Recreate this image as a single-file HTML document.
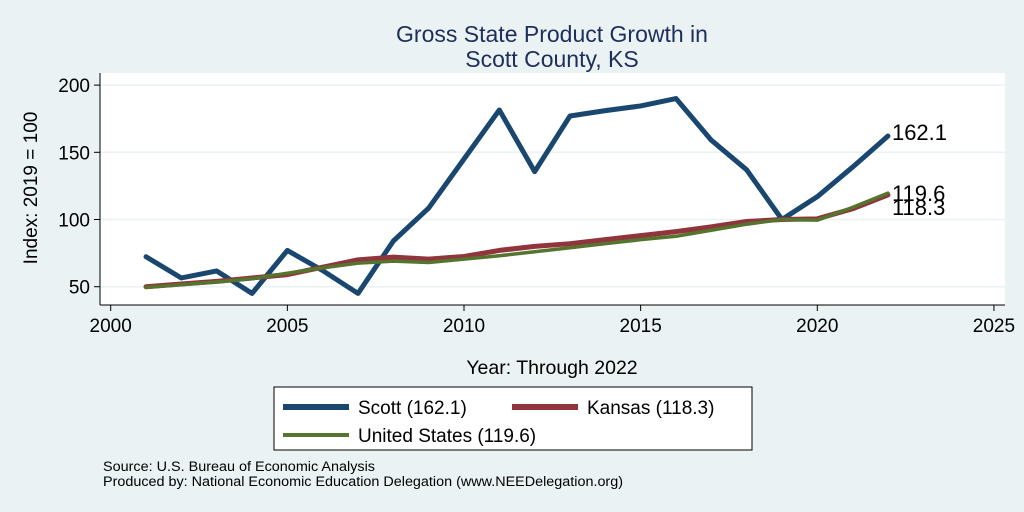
<!DOCTYPE html>
<html><head><meta charset="utf-8"><style>
body{margin:0;background:#eaf2f3;font-family:"Liberation Sans",sans-serif;}
svg{display:block}
</style></head><body>
<svg id="chart" width="1024" height="512" viewBox="0 0 1024 512">
<rect x="0" y="0" width="1024" height="512" fill="#eaf2f3"/>
<text x="552" y="42" text-anchor="middle" font-size="23" fill="#1e2d5a">Gross State Product Growth in</text>
<text x="552" y="67" text-anchor="middle" font-size="23" fill="#1e2d5a">Scott County, KS</text>
<rect x="100" y="73" width="905" height="232" fill="#fff"/>
<g id="grid"></g><g id="axes"></g><g id="series"></g>
<text transform="translate(37,188) rotate(-90)" text-anchor="middle" font-size="19" fill="#000">Index: 2019 = 100</text>
<text x="552" y="374" text-anchor="middle" font-size="19.5" fill="#000">Year: Through 2022</text>
<g>
<rect x="274" y="387" width="478" height="63" fill="#fff" stroke="#000" stroke-width="1"/>
<g><line x1="283" y1="407" x2="349" y2="407" stroke="#1a476f" stroke-width="6"/><text x="358" y="414" font-size="19">Scott  (162.1)</text></g>
<g><line x1="512" y1="407" x2="578" y2="407" stroke="#90353b" stroke-width="6"/><text x="587" y="414" font-size="19">Kansas (118.3)</text></g>
<g><line x1="283" y1="435" x2="349" y2="435" stroke="#55752f" stroke-width="4"/><text x="358" y="442" font-size="19">United States (119.6)</text></g>
</g>
<text x="103" y="471" font-size="13.5" textLength="272" lengthAdjust="spacingAndGlyphs">Source: U.S. Bureau of Economic Analysis</text>
<text x="103" y="486" font-size="13.5" textLength="520" lengthAdjust="spacingAndGlyphs">Produced by: National Economic Education Delegation (www.NEEDelegation.org)</text>
</svg>
<script>
const years=[2001,2002,2003,2004,2005,2006,2007,2008,2009,2010,2011,2012,2013,2014,2015,2016,2017,2018,2019,2020,2021,2022];
const scott=[72.3,56.5,61.7,45,77,62,45,84,108.5,145,181.5,135.6,177,181,184.5,190,159,137,100,117,139,162.1];
const kansas=[50,52,54,56.5,59,64.5,70,72,70.5,72.5,77,80,82,85,88,91,94.5,98.5,100,100.5,108,118.3];
const us=[49.5,51.5,53.5,56,60,64,67.5,69,68,70.5,73,76,79,82,85,87.5,92,96.5,100,99.5,109,119.6];
const xTicks=[2000,2005,2010,2015,2020,2025];
const yTicks=[50,100,150,200];
const labels=["162.1","119.6","118.3"];
const NS="http://www.w3.org/2000/svg";
const X=v=>110.7+(v-2000)*35.33;
const Y=v=>286.7-(v-50)*1.344;
function mk(t,a,p){const e=document.createElementNS(NS,t);for(const k in a)e.setAttribute(k,a[k]);p.appendChild(e);return e;}
const grid=document.getElementById('grid'),axes=document.getElementById('axes'),ser=document.getElementById('series');
yTicks.forEach(v=>{
 const g=mk('line',{x1:100,x2:1005,y1:Y(v),y2:Y(v),stroke:'#eaf2f3','stroke-width':1.5},grid);
 
 
 const t=mk('line',{x1:94,x2:100,y1:Y(v),y2:Y(v),stroke:'#000'},axes);
 
 
 const l=mk('text',{x:90,y:Y(v)+7,'text-anchor':'end','font-size':19},axes);l.textContent=v;
 
 
});
xTicks.forEach(v=>{
 const t=mk('line',{x1:X(v),x2:X(v),y1:305,y2:311,stroke:'#000'},axes);
 
 
 const l=mk('text',{x:X(v),y:332,'text-anchor':'middle','font-size':19},axes);l.textContent=v;
 
 
});
const ya=mk('line',{x1:100,x2:100,y1:73,y2:305,stroke:'#000'},axes);


const xa=mk('line',{x1:100,x2:1005,y1:305,y2:305,stroke:'#000'},axes);


function line(vals,col,w,name){
 const p=mk('polyline',{points:vals.map((v,i)=>X(years[i])+','+Y(v)).join(' '),fill:'none',stroke:col,'stroke-width':w,'stroke-linejoin':'round','stroke-linecap':'round'},ser);
 
 
}
line(scott,'#1a476f',5,'line-scott');
line(kansas,'#90353b',5,'line-kansas');
line(us,'#55752f',3.5,'line-us');
const n=years.length-1;
[[scott[n],labels[0],-4],[us[n],labels[1],0],[kansas[n],labels[2],12]].forEach((d,i)=>{
 const t=mk('text',{x:X(years[n])+4,y:Y(d[0])+8+d[2],'font-size':22},ser);t.textContent=d[1];
 
 
});
</script>
</body></html>
